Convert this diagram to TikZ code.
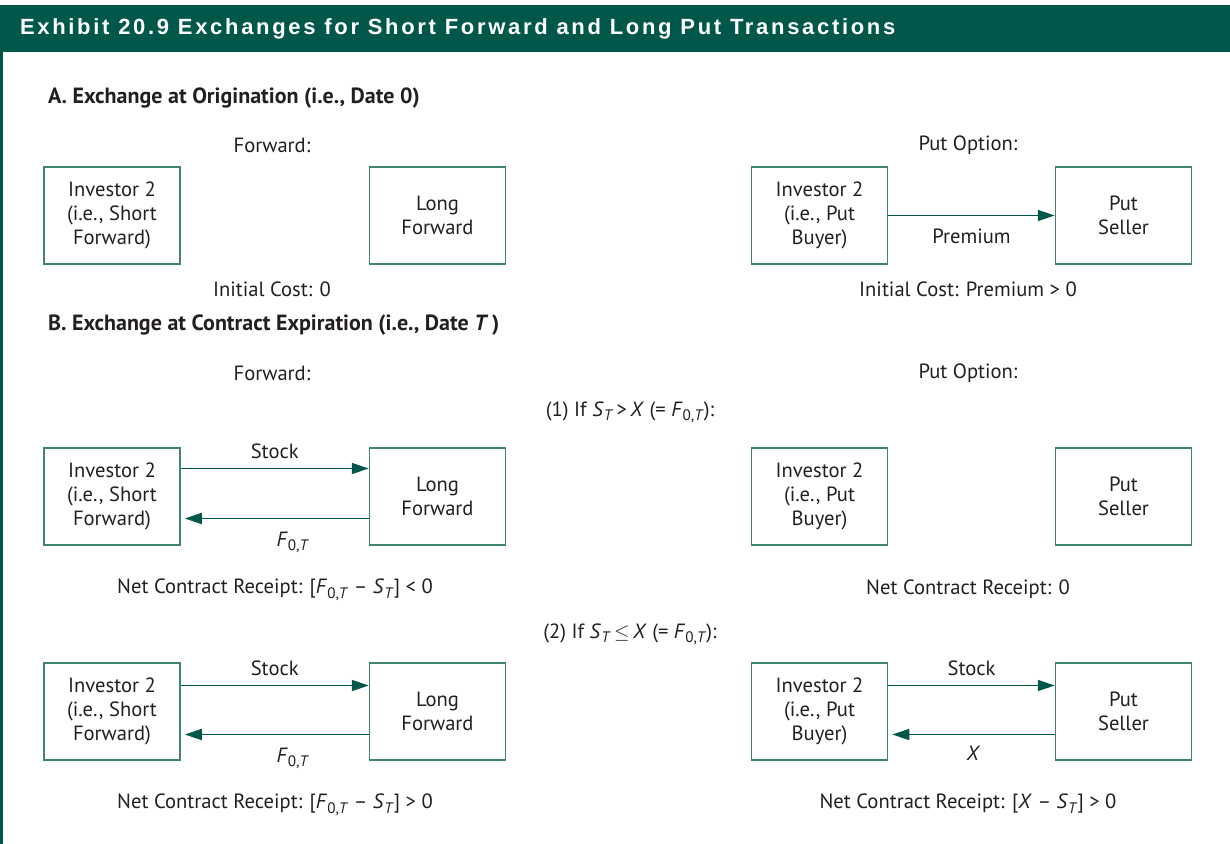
\documentclass[tikz,border=0pt]{standalone}
\usepackage{fontspec}
\setmainfont{PT Sans}
\newfontfamily\titlefont[LetterSpace=12.2]{Liberation Sans Bold}
\usetikzlibrary{arrows.meta}
\definecolor{exgreen}{HTML}{00574A}
\definecolor{boxline}{HTML}{3F8473}
\definecolor{ink}{HTML}{231F20}
\newcommand{\subit}[1]{\raisebox{-0.45ex}[0pt][0pt]{\fontsize{7.6}{8}\selectfont #1}}
\newcommand{\Sexp}{\textit{S}\subit{\textit{T}}}
\newcommand{\Fwd}{\textit{F}\subit{0,\textit{T}}}

\begin{document}
\begin{tikzpicture}[x=0.5pt, y=-0.5pt,
    every node/.style={font=\fontsize{10.3}{12}\selectfont, text=ink},
    party/.style={draw=boxline, line width=0.75pt, minimum width=68pt, minimum height=48.5pt, align=center, inner sep=1pt},
    flow/.style={-{Triangle[length=8.5pt,width=5.5pt]}, exgreen, line width=0.7pt},
    head/.style={anchor=west, font=\fontsize{11}{12}\selectfont\bfseries}]
\useasboundingbox (0,0) rectangle (1230,844);
% frame
\fill[exgreen] (0,5) rectangle (1230,52);
\fill[exgreen] (0,52) rectangle (3,844);
\node[anchor=west, text=white, font=\fontsize{11}{12}\selectfont\titlefont] (title) at (13,29) {Exhibit 20.9 Exchanges for Short Forward and Long Put Transactions};

% A. origination
\node[head] (headA) at (41,98) {A. Exchange at Origination (i.e., Date 0)};
\node (fwdA) at (272,145) {Forward:};
\node (putA) at (968,145) {Put Option:};
\node[party] (shortA) at (112,215.5) {Investor 2\\(i.e., Short\\Forward)};
\node[party] (longA) at (437.5,215.5) {Long\\Forward};
\node[party] (buyA) at (819.5,215.5) {Investor 2\\(i.e., Put\\Buyer)};
\node[party] (sellA) at (1123.5,215.5) {Put\\Seller};
\draw[flow] (buyA) -- node[below=3pt] (premA) {Premium} (sellA);
\node (costF) at (272,289) {Initial Cost: 0};
\node (costP) at (968,289) {Initial Cost: Premium > 0};

% B. expiration
\node[head] (headB) at (41,325) {B. Exchange at Contract Expiration (i.e., Date \textit{T}\,)};
\node (fwdB) at (272,373) {Forward:};
\node (putB) at (968,373) {Put Option:};
\node (case1) at (630,411) {(1) If \Sexp\,>\,\textit{X} (= \Fwd):};
\node (case2) at (630,633) {(2) If \Sexp\,$\leq$\,\textit{X} (= \Fwd):};

% case 1
\node[party] (shortB) at (112,496.5) {Investor 2\\(i.e., Short\\Forward)};
\node[party] (longB) at (437.5,496.5) {Long\\Forward};
\node[party] (buyB) at (819.5,496.5) {Investor 2\\(i.e., Put\\Buyer)};
\node[party] (sellB) at (1123.5,496.5) {Put\\Seller};
\draw[flow] ([yshift=14pt]shortB.east) -- node[above=1pt] (stockB) {Stock} ([yshift=14pt]longB.west);
\draw[flow] ([yshift=-11pt]longB.west) -- node[below=3pt, xshift=8pt] (priceB) {\Fwd} ([yshift=-11pt,xshift=2pt]shortB.east);
\node (netB) at (275,589) {Net Contract Receipt: [\Fwd\ -- \Sexp] < 0};
\node (netBp) at (968,589) {Net Contract Receipt: 0};

% case 2
\node[party] (shortC) at (112,711.5) {Investor 2\\(i.e., Short\\Forward)};
\node[party] (longC) at (437.5,711.5) {Long\\Forward};
\node[party] (buyC) at (819.5,711.5) {Investor 2\\(i.e., Put\\Buyer)};
\node[party] (sellC) at (1123.5,711.5) {Put\\Seller};
\draw[flow] ([yshift=13pt]shortC.east) -- node[above=1pt] (stockC) {Stock} ([yshift=13pt]longC.west);
\draw[flow] ([yshift=-11.5pt]longC.west) -- node[below=3pt, xshift=8pt] (priceC) {\Fwd} ([yshift=-11.5pt,xshift=2pt]shortC.east);
\draw[flow] ([yshift=13pt]buyC.east) -- node[above=1pt] (stockCp) {Stock} ([yshift=13pt]sellC.west);
\draw[flow] ([yshift=-11.5pt]sellC.west) -- node[below=2pt] (strikeC) {\textit{X}} ([yshift=-11.5pt,xshift=2pt]buyC.east);
\node (netC) at (275,804) {Net Contract Receipt: [\Fwd\ -- \Sexp] > 0};
\node (netCp) at (968,804) {Net Contract Receipt: [\textit{X} -- \Sexp] > 0};
\end{tikzpicture}
\end{document}
